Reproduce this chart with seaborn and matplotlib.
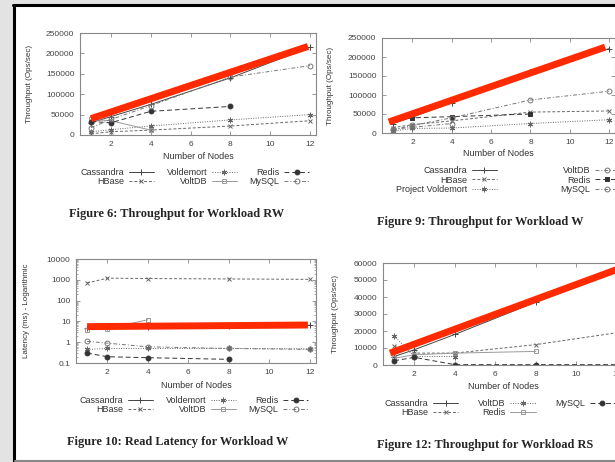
import numpy as np
import pandas as pd
import matplotlib
matplotlib.use("Agg")
import matplotlib.pyplot as plt
from matplotlib.patches import Rectangle
from matplotlib.lines import Line2D
import seaborn as sns

sns.set_theme(style="ticks")
plt.rcParams["font.family"] = ["Liberation Sans", "DejaVu Sans"]

# ---- data ----
n5 = [1, 2, 4, 8, 12]
n4 = [1, 2, 4, 8]
n3 = [1, 2, 4]

# Figure 6: throughput, workload RW
rw_cassandra = [30000, 45000, 75000, 140000, 215000]
rw_hbase = [3000, 8000, 12000, 22000, 35000]
rw_voldemort = [8000, 13000, 22000, 37000, 50000]
rw_voltdb = [38000, 35000, 12000]
rw_redis = [33000, 30000, 58000, 70000]
rw_mysql = [18000, 38000, 72000, 142000, 170000]
rw_red_x = [1, 11.9]
rw_red_y = [40000, 217000]

# Figure 9: throughput, workload W
w_cassandra = [25000, 42000, 80000, 160000, 222000]
w_hbase = [14000, 22000, 32000, 55000, 58000]
w_voldemort = [5000, 12000, 13000, 25000, 35000]
w_voltdb = [10000, 15000, 25000]
w_redis = [35000, 40000, 43000, 50000]
w_mysql = [8000, 20000, 40000, 87000, 110000]
w_red_x = [0.8, 11.8]
w_red_y = [29000, 226000]

# Figure 10: read latency, workload W (log scale)
lat_cassandra = [5.0, 5.2, 5.5, 6.0, 6.5]
lat_hbase = [700, 1200, 1150, 1100, 1050]
lat_voldemort = [0.45, 0.5, 0.5, 0.5, 0.48]
lat_voltdb = [4.0, 4.5, 12.0]
lat_redis = [0.3, 0.2, 0.18, 0.15]
lat_mysql = [1.1, 0.9, 0.6, 0.5, 0.45]
lat_red_x = [1, 11.9]
lat_red_y = [5.6, 6.7]

# Figure 12: throughput, workload RS
rs_cassandra = [5000, 9000, 18000, 37000, 55000]
rs_hbase = [11000, 7000, 7000, 12000, 19000]
rs_voltdb = [17000, 5000, 5000]
rs_redis = [4000, 6000, 7000, 8000]
rs_mysql = [2500, 4500, 200, 200, 200]
rs_red_x = [0.8, 12.3]
rs_red_y = [7000, 57500]

xticks = [2, 4, 6, 8, 10, 12]
thr_ticks = [0, 50000, 100000, 150000, 200000, 250000]
rs_ticks = [0, 10000, 20000, 30000, 40000, 50000, 60000]
lat_ticks = [0.1, 1, 10, 100, 1000, 10000]
lat_labels = ["0.1", "1", "10", "100", "1000", "10000"]

# gnuplot-like point/line types, by position in the key
pt = [
    dict(marker="+", ls="-", color="#444", ms=4),
    dict(marker="x", ls=(0, (3, 2)), color="#666", ms=3),
    dict(marker=(6, 2, 0), ls=(0, (1, 1.5)), color="#666", ms=4),
    dict(marker="s", ls="-", color="#999", ms=3.5, mfc="none"),
    dict(marker="o", ls=(0, (5, 3)), color="#333", ms=3.5),
    dict(marker="o", ls=(0, (4, 2, 1, 2)), color="#777", ms=3.5, mfc="none"),
]
pt12 = [pt[0], pt[1], pt[2], pt[3], pt[4]]

W, H = 615, 462
fig = plt.figure(figsize=(W / 100, H / 100), dpi=100)
fig.patch.set_facecolor("#e3e3e3")

# page + frame
fig.patches.append(Rectangle((15 / W, 2 / H), 600 / W, 454 / H, transform=fig.transFigure,
                             facecolor="white", edgecolor="none", zorder=-5))
fig.lines.append(Line2D([14 / W, 14 / W], [0, 457 / H], transform=fig.transFigure, color="black", lw=2.2))
fig.lines.append(Line2D([13 / W, 1], [457 / H, 457 / H], transform=fig.transFigure, color="black", lw=2.2))
fig.lines.append(Line2D([15 / W, 1], [1.5 / H, 1.5 / H], transform=fig.transFigure, color="#888", lw=1.5))


def panel(rect, xs, ys, names, styles, red_x, red_y, ylabel, ylcoord, yticks, ylim,
          leg_xy, ncol, colsp, caption, cap_xy, log=False):
    ax = fig.add_axes(rect)
    ax.set_facecolor("white")
    for x, y, name, st in zip(xs, ys, names, styles):
        sns.lineplot(x=x, y=y, ax=ax, label=name, legend=False, lw=0.7,
                     mew=0.7, mec=st["color"], **st)
    sns.lineplot(x=red_x, y=red_y, ax=ax, color="#ff2a00", lw=5, legend=False,
                 solid_capstyle="butt", zorder=5)
    if log:
        ax.set_yscale("log")
        ax.set_yticks(lat_ticks)
        ax.set_yticklabels(lat_labels)
    else:
        ax.set_yticks(yticks)
        ax.set_yticklabels([str(t) for t in yticks])
    ax.set_ylim(*ylim)
    ax.set_xlim(0.45, 12.3)
    ax.set_xticks(xticks)
    ax.tick_params(direction="in", length=3, width=0.6, labelsize=6, colors="#888",
                   labelcolor="#444", top=True, right=True, pad=4)
    ax.tick_params(which="minor", direction="in", length=1.5, width=0.5, colors="#888",
                   top=True, right=True)
    for s in ax.spines.values():
        s.set_color("#888")
        s.set_linewidth(0.8)
    ax.set_ylabel(ylabel, fontsize=5.8, color="#333")
    ax.yaxis.set_label_coords(ylcoord, 0.5)
    ax.set_xlabel("Number of Nodes", fontsize=6.5, color="#333", va="top")
    ax.xaxis.set_label_coords(0.5, -0.17)
    handles, labels = ax.get_legend_handles_labels()
    fig.legend(handles, labels, loc="center", bbox_to_anchor=leg_xy, ncol=ncol,
               markerfirst=False, frameon=False, fontsize=6.5, handlelength=2.8,
               handletextpad=0.5, columnspacing=colsp, labelspacing=0.05,
               borderpad=0, labelcolor="#333")
    fig.text(cap_xy[0] / W, 1 - cap_xy[1] / H, caption, ha="center", va="center",
             fontsize=8.9, fontweight="bold", family="Liberation Serif")
    return ax


names6 = ["Cassandra", "HBase", "Voldemort", "VoltDB", "Redis", "MySQL"]
panel([80 / W, 1 - 135 / H, 236 / W, 102 / H],
      [n5, n5, n5, n3, n4, n5],
      [rw_cassandra, rw_hbase, rw_voldemort, rw_voltdb, rw_redis, rw_mysql],
      names6, pt, rw_red_x, rw_red_y, "Throughput (Ops/sec)", -0.2,
      thr_ticks, (0, 250000), (195 / W, 1 - 177 / H), 3, 1.4,
      "Figure 6: Throughput for Workload RW", (177, 214))

names9 = ["Cassandra", "HBase", "Project Voldemort", "VoltDB", "Redis", "MySQL"]
pt9 = [pt[0], pt[1], pt[2], pt[5], dict(pt[4], marker="s"), pt[5]]
panel([382 / W, 1 - 133 / H, 233 / W, 95 / H],
      [n5, n5, n5, n3, n4, n5],
      [w_cassandra, w_hbase, w_voldemort, w_voltdb, w_redis, w_mysql],
      names9, pt9, w_red_x, w_red_y, "Throughput (Ops/sec)", -0.205,
      thr_ticks, (0, 250000), (508 / W, 1 - 180 / H), 2, 7.0,
      "Figure 9: Throughput for Workload W", (480, 222))

panel([76 / W, 1 - 363 / H, 240 / W, 104 / H],
      [n5, n5, n5, n3, n4, n5],
      [lat_cassandra, lat_hbase, lat_voldemort, lat_voltdb, lat_redis, lat_mysql],
      names6, pt, lat_red_x, lat_red_y, "Latency (ms) - Logarithmic", -0.19,
      lat_ticks, (0.1, 10000), (194 / W, 1 - 405 / H), 3, 1.4,
      "Figure 10: Read Latency for Workload W", (178, 442), log=True)

names12 = ["Cassandra", "HBase", "VoltDB", "Redis", "MySQL"]
panel([383 / W, 1 - 365 / H, 240 / W, 102 / H],
      [n5, n5, n3, n4, n5],
      [rs_cassandra, rs_hbase, rs_voltdb, rs_redis, rs_mysql],
      names12, pt12, rs_red_x, rs_red_y, "Throughput (Ops/sec)", -0.185,
      rs_ticks, (0, 60000), (500 / W, 1 - 408 / H), 3, 2.2,
      "Figure 12: Throughput for Workload RS", (485, 445))

fig.savefig("out.png", dpi=100, facecolor=fig.get_facecolor())
